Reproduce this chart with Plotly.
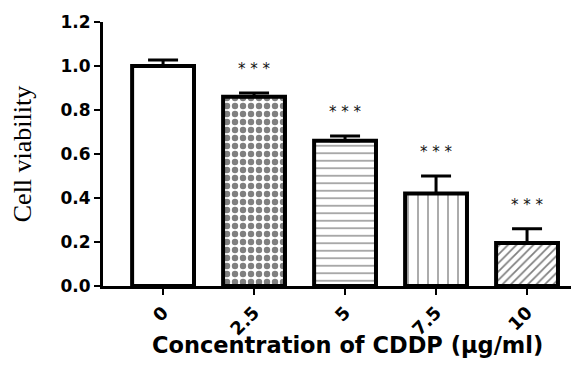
import plotly.graph_objects as go

categories = ["0", "2.5", "5", "7.5", "10"]
viability = [1.00, 0.86, 0.66, 0.42, 0.195]
sd = [0.027, 0.017, 0.022, 0.08, 0.065]
stars = ["", "***", "***", "***", "***"]

patterns = ["", ".", "-", "|", "/"]
psize = [8, 8, 7.5, 10, 6]
psolid = [0.3, 0.5, 0.17, 0.13, 0.28]

fig = go.Figure()
fig.add_trace(go.Bar(
    x=categories, y=viability,
    width=0.68,
    marker=dict(
        color="white",
        line=dict(color="black", width=4),
        pattern=dict(shape=patterns, size=psize, solidity=psolid,
                     fgcolor="black", bgcolor="white", fillmode="overlay"),
    ),
    error_y=dict(type="data", symmetric=False, array=sd,
                 arrayminus=[0] * len(sd), color="black",
                 thickness=3, width=15),
    showlegend=False,
))

for i, (v, s, t) in enumerate(zip(viability, sd, stars)):
    if t:
        fig.add_annotation(x=i, y=v + s, text=" ".join(t), showarrow=False,
                           yanchor="bottom", yshift=13,
                           font=dict(family="DejaVu Sans", size=15, color="#111"))

fig.add_annotation(xref="paper", yref="paper", x=0.514, y=-0.2235,
                   xanchor="center", yanchor="middle", showarrow=False,
                   text="<b>Concentration of CDDP (μg/ml)</b>",
                   font=dict(family="DejaVu Sans", size=22.5, color="black"))

fig.update_layout(
    width=571, height=357,
    margin=dict(l=95, r=1, t=14, b=79),
    paper_bgcolor="white", plot_bgcolor="white",
    xaxis=dict(
        type="category", automargin=False,
        range=[-0.66, 4.56], showline=True, linecolor="black", linewidth=3,
        ticks="outside", ticklen=6, tickwidth=2, tickcolor="black",
        tickangle=-45,
        tickfont=dict(family="DejaVu Sans", size=18, color="black", weight="bold"),
        showgrid=False, zeroline=False,
    ),
    yaxis=dict(
        automargin=False,
        range=[0, 1.2], dtick=0.2, tickformat=".1f", showline=True,
        linecolor="black", linewidth=3,
        ticks="outside", ticklen=6, tickwidth=2, tickcolor="black",
        tickfont=dict(family="DejaVu Sans", size=17, color="black", weight="bold"),
        title=dict(text="Cell viability",
                   font=dict(family="Liberation Serif", size=26, color="black"),
                   standoff=25),
        showgrid=False, zeroline=False,
    ),
)

fig.write_html("out.html")
